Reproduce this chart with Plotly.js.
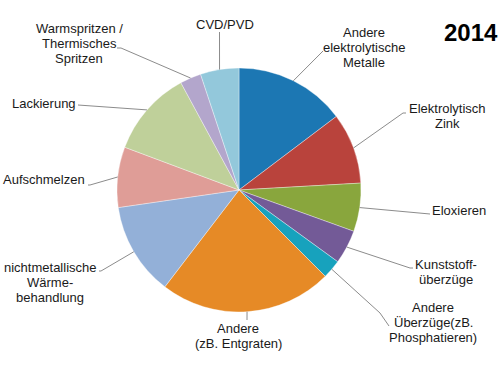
<!DOCTYPE html>
<html><head><meta charset="utf-8">
<script src="https://cdn.plot.ly/plotly-3.0.1.min.js"></script>
<style>html,body{margin:0;padding:0;background:#fff}</style>
</head><body><div id="chart" style="width:500px;height:380px"></div>
<script>
const labels = ["Andere<br>elektrolytische<br>Metalle", "Elektrolytisch<br>Zink", "Eloxieren",
  "Kunststoff-<br>überzüge", "Andere<br>Überzüge(zB.<br>Phosphatieren)", "Andere<br>(zB. Entgraten)",
  "nichtmetallische<br>Wärme-<br>behandlung", "Aufschmelzen", "Lackierung",
  "Warmspritzen /<br>Thermisches<br>Spritzen", "CVD/PVD"];
const values = [14.7, 9.4, 6.4, 4.5, 2.5, 22.9, 12.3, 8.0, 11.4, 2.8, 5.1];
const colors = ["#1c77b3", "#b9433c", "#89a63d", "#735a97", "#17a2bd", "#e68a26",
  "#93b0d8", "#df9d97", "#bfd09a", "#b3a6cc", "#93c8db"];
const title = "2014";

// layout: label centres and leader elbows (pixels)
const W = 500, H = 380;
const cx = 239, cy = 190, R = 122, LH = 15;
const labelPos = [[364,47],[447,116],[459,211],[446,272],[433,322],[238,336],[50,282],[44,180],[44,103],[79,43],[225,25]];
const elbows = [[[323,51]],[[403,113],[406,113]],[[430,214]],[[410,268],[413,268]],[[380,313],[389,326]],
  [[247,320]],[[101,271],[99,271]],[[90,185],[88,185]],[[78,105]],[[121,48],[117,48]],[[219.5,32]]];

const px = x => x / W, py = y => 1 - y / H;
const total = values.reduce((a,b)=>a+b,0);
let cum = 0;
const shapes = [], annotations = [];
const font = {family:'Liberation Sans, Arial, sans-serif', size:13, color:'#1a1a1a'};
values.forEach((v,i)=>{
  const mid = (cum + v/2) / total * 2*Math.PI; cum += v;
  const ex = cx + R*Math.sin(mid), ey = cy - R*Math.cos(mid);
  let path = `M${px(ex)},${py(ey)}`;
  elbows[i].forEach(p => { path += ` L${px(p[0])},${py(p[1])}`; });
  shapes.push({type:'path', xref:'paper', yref:'paper', path, line:{color:'#8c8c8c', width:1}});
  const lines = labels[i].split('<br>');
  lines.forEach((t,k)=>{
    const y = labelPos[i][1] + (k - (lines.length-1)/2) * LH;
    annotations.push({xref:'paper', yref:'paper', x:px(labelPos[i][0]), y:py(y),
      xanchor:'center', yanchor:'middle', text:t, showarrow:false, font});
  });
});
annotations.push({xref:'paper', yref:'paper', x:1, y:py(32), xanchor:'right', yanchor:'middle',
  text:'<b>'+title+'</b>', showarrow:false,
  font:{family:'Liberation Sans, Arial, sans-serif', size:24, color:'#000'}});

const trace = {type:'pie', labels:labels.map((l,i)=>'s'+i), values, sort:false, direction:'clockwise',
  rotation:0, textinfo:'none', hoverinfo:'none',
  marker:{colors, line:{color:'rgba(255,255,255,0.6)', width:0.6}},
  domain:{x:[(cx-R)/W,(cx+R)/W], y:[py(cy+R), py(cy-R)]}};

Plotly.newPlot('chart', [trace], {width:W, height:H, margin:{l:0,r:0,t:0,b:0},
  showlegend:false, paper_bgcolor:'#fff', shapes, annotations}, {staticPlot:true});
</script></body></html>
